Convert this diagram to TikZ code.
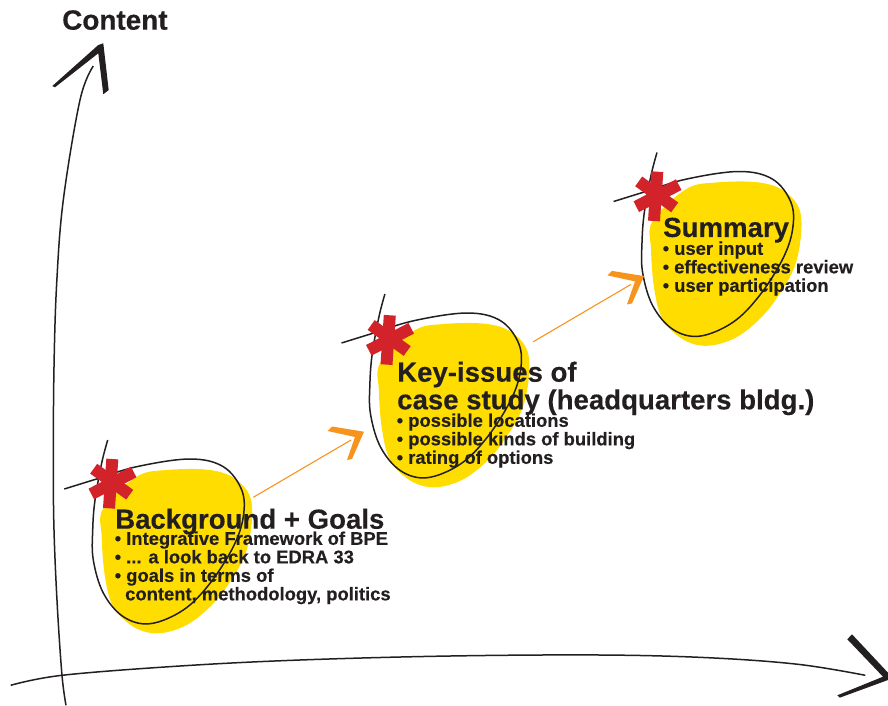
\documentclass[tikz,border=0pt]{standalone}
\usepackage{fontspec}
\setmainfont{Liberation Sans}[BoldFeatures={FakeBold=0.3}]
\definecolor{ink}{HTML}{231F20}
\definecolor{blobyellow}{HTML}{FFDD00}
\definecolor{starred}{HTML}{D2232A}
\definecolor{arroworange}{HTML}{F7941D}
\tikzset{
  axisline/.style={draw=ink,line width=1.5pt},
  axishead/.style={fill=ink,draw=none},
  blobline/.style={draw=ink,line width=1.5pt},
  titletext/.style={anchor=north west,inner sep=0pt,align=left,text=ink,font=\fontsize{27.6}{27.6}\selectfont\bfseries},
  listtext/.style={anchor=north west,inner sep=0pt,align=left,text=ink,font=\fontsize{18.4}{18.5}\selectfont\bfseries},
  flowline/.style={draw=arroworange,line width=1.1pt},
  stararm/.style={draw=starred,line width=12pt},
  pics/blob/.style={code={
    \fill[blobyellow] plot[smooth cycle,tension=0.6] coordinates {(103.3,508.3) (136.7,476.7) (166.7,470) (210,470) (236.7,480) (251.7,503.3) (246.7,550) (226.7,586.7) (206.7,610) (183.3,626.7) (156.7,633.3) (133.3,626.7) (113.3,606.7) (105,576.7) (101.7,536.7)};
    \draw[blobline] plot[smooth,tension=0.6] coordinates {(107.7,440) (101.7,463) (95,500) (92.7,530) (93.3,560) (103.3,593) (123.3,616.7) (150,623.7) (183.3,610) (210,583.3) (233.3,546.7) (243.3,516.7) (241.7,490) (223.3,466.7) (190,459) (136.7,466.7) (93.3,480) (64.3,489)};
  }},
  pics/star/.style={code={
    \draw[stararm] (112.3,459) -- (109,508.3);
    \draw[stararm] (93.7,468.7) -- (129.7,494.7);
    \draw[stararm] (133.7,472) -- (91.3,494);
  }},
  pics/flow/.style={code={
    \draw[flowline] (253.3,497.3) -- (351,440);
    \fill[arroworange] (327.5,431) -- (332,426.5) -- (364,431.7) -- (352,459) -- (347,460)
      -- (355,437) -- cycle;
  }},
}
\begin{document}
\begin{tikzpicture}[x=1pt,y=-1pt]
\useasboundingbox (0,0) rectangle (888,706);
\pic {blob};
\pic at (277.2,-146) {blob};
\pic at (549.3,-287.5) {blob};
\pic {star};
\pic at (277.5,-143.7) {star};
\pic at (545,-287.3) {star};
\pic {flow};
\pic at (280,-155.6) {flow};

\node[font=\fontsize{27.9}{27.9}\selectfont\bfseries,text=ink,anchor=north west,inner sep=0pt] (ylabel) at (62,10) {Content};

\draw[axisline] plot[smooth,tension=0.6] coordinates {(66,705.3) (62,675.3) (57.3,606) (54,530) (53.3,460) (54,367) (56.7,283) (63.3,200) (80,100) (93.3,66)};
\fill[axishead] (52.3,86) -- (98.3,45) -- (103.3,43.3) -- (108.7,90) -- (103.3,94.3) -- (98.3,53.3) -- (55,87.3) -- cycle;
\draw[axisline] plot[smooth,tension=0.6] coordinates {(10.7,685.3) (62,675.3) (180,666) (300,660) (450,656) (600,655) (708,657.7) (798,664.3) (865.3,675.3)};
\fill[axishead] (847.3,639.3) -- (852,634.3) -- (888,672.7) -- (888,680) -- (839.7,697.7) -- (837.3,695.3) -- (883,676.7) -- cycle;

\node[titletext] (t1) at (115,508.5) {Background + Goals};
\node[listtext] (l1) at (114.5,531.3) {• Integrative Framework of BPE\\• ... a look back to EDRA 33\\• goals in terms of\\\hspace*{10.5pt}content, methodology, politics};
\node[titletext] (t2) at (397,361.5) {Key-issues of\\case study (headquarters bldg.)};
\node[listtext] (l2) at (396.5,413.3) {• possible locations\\• possible kinds of building\\• rating of options};
\node[titletext] (t3) at (663,217.5) {Summary};
\node[listtext] (l3) at (662.5,241.3) {• user input\\• effectiveness review\\• user participation};
\end{tikzpicture}
\end{document}
